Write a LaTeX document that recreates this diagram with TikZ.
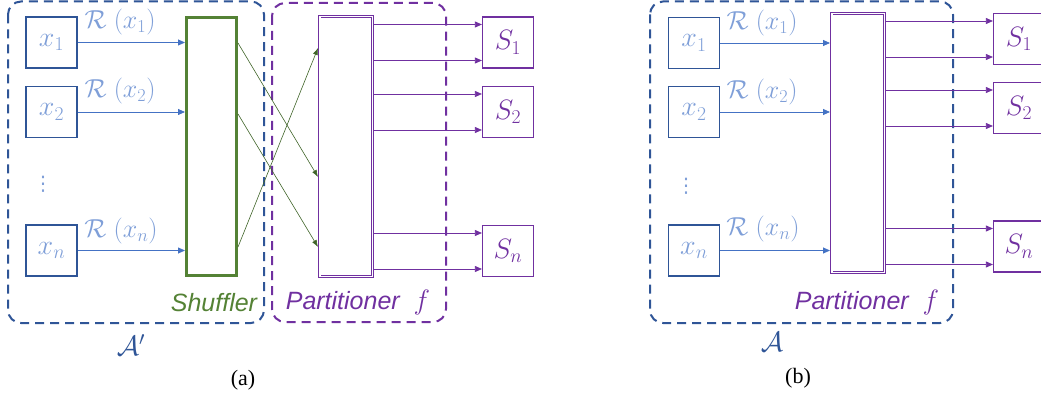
\documentclass[tikz,border=0pt]{standalone}
\usepackage{fix-cm}
\usepackage[no-math]{fontspec}
\newfontfamily\labfont{Liberation Sans}
\newfontfamily\capfont{Liberation Serif}
\newfontfamily\dotfont{DejaVu Sans}
\usetikzlibrary{arrows.meta,calc}
\definecolor{dblue}{HTML}{2F5597}
\definecolor{lblue}{HTML}{7F9FD8}
\definecolor{mblue}{HTML}{4472C4}
\definecolor{purp}{HTML}{7030A0}
\definecolor{grn}{HTML}{548235}
\definecolor{dgrn}{HTML}{3F6428}
\newcommand{\lowr}[1]{\raisebox{-3pt}{$#1$}}
\begin{document}
\begin{tikzpicture}[x=1pt,y=-1pt,
  bigfont/.style={font=\fontsize{28}{32}\selectfont},
  midfont/.style={font=\fontsize{26}{30}\selectfont},
  xbox/.style={draw=dblue, line width=1.2pt, minimum width=51pt, minimum height=51pt, inner sep=0pt, text=lblue, bigfont},
  sbox/.style={draw=purp, line width=1.2pt, minimum width=51pt, minimum height=51pt, inner sep=0pt, text=purp, bigfont},
  rlab/.style={text=lblue, inner sep=0pt, midfont},
  dotlab/.style={text=lblue, inner sep=0pt, font=\fontsize{20}{24}\selectfont\dotfont},
  barrow/.style={draw=mblue, line width=0.8pt, -{Triangle[length=7pt,width=6pt]}},
  parrow/.style={draw=purp, line width=0.8pt, -{Triangle[length=7pt,width=6pt]}},
  garrow/.style={draw=dgrn, line width=0.6pt, -{Latex[length=7pt,width=5pt]}},
  shufbox/.style={draw=grn, line width=3pt, minimum width=50pt, minimum height=258pt, inner sep=0pt},
  partbox/.style={draw=purp, double=white, line width=0.7pt, double distance=1.8pt, outer sep=1.6pt, minimum width=52.8pt, inner sep=0pt},
  grp/.style={dash pattern=on 9pt off 6pt, line width=2pt, rounded corners=13pt},
  grplab/.style={inner sep=0pt, font=\fontsize{25}{30}\selectfont\labfont\itshape},
  caplab/.style={inner sep=0pt, font=\fontsize{22}{26}\selectfont\capfont}
]
\useasboundingbox (0,0) rectangle (1041,398);

% ---------- panel (a) ----------
\draw[grp, draw=dblue] (8,1.5) rectangle (264,323);
\draw[grp, draw=purp] (272,3) rectangle (446,322);

\node[xbox] (ax1) at (51.5,42.5) {\lowr{x_1}};
\node[xbox] (ax2) at (51.5,112) {\lowr{x_2}};
\node[xbox] (axn) at (51.5,250.5) {\lowr{x_n}};
\node[dotlab] (adots) at (43,184) {⋮};

\node[shufbox] (sh) at (211.5,146.5) {};
\node[partbox, minimum height=259.8pt] (pa) at (346,146.5) {};

\node[rlab] (ar1) at (120,22) {$\mathcal{R}\;(x_1)$};
\node[rlab] (ar2) at (120,91) {$\mathcal{R}\;(x_2)$};
\node[rlab] (arn) at (121,231) {$\mathcal{R}\;(x_n)$};

\draw[barrow] (ax1.east) -- (ax1.east -| sh.west);
\draw[barrow] (ax2.east) -- (ax2.east -| sh.west);
\draw[barrow] (axn.east) -- (axn.east -| sh.west);

\draw[garrow] ([yshift=-27pt]sh.north east) -- ([yshift=-162pt]pa.north west);
\draw[garrow] ([yshift=-98pt]sh.north east) -- ([yshift=-232pt]pa.north west);
\draw[garrow] ([yshift=-231pt]sh.north east) -- ([yshift=-33pt]pa.north west);

\node[sbox] (as1) at (508,42.5) {\lowr{S_1}};
\node[sbox] (as2) at (508,112) {\lowr{S_2}};
\node[sbox] (asn) at (508,251) {\lowr{S_n}};

\foreach \s in {as1,as2,asn}{
  \coordinate (\s u) at ([yshift=18pt]\s.west);
  \coordinate (\s d) at ([yshift=-18pt]\s.west);
  \draw[parrow] (pa.east |- \s u) -- (\s u);
  \draw[parrow] (pa.east |- \s d) -- (\s d);
}

\node[grplab, text=grn] (shlab) at (214,303) {Shuffler};
\node[grplab, text=purp] (palab) at (358,302) {Partitioner\;\;{\normalfont\fontsize{28}{32}\selectfont$f$}};
\node[text=dblue, bigfont] (Aa) at (131,345) {$\mathcal{A}'$};
\node[caplab] (capa) at (243,380) {(a)};

% ---------- panel (b) ----------
\draw[grp, draw=dblue] (650,1.5) rectangle (953,323);

\node[xbox] (bx1) at (694,43) {\lowr{x_1}};
\node[xbox] (bx2) at (694,112) {\lowr{x_2}};
\node[xbox] (bxn) at (694,250.5) {\lowr{x_n}};
\node[dotlab] (bdots) at (686,186) {⋮};

\node[partbox, minimum height=258.8pt] (pb) at (858,143) {};

\node[rlab] (br1) at (762,23) {$\mathcal{R}\;(x_1)$};
\node[rlab] (br2) at (762,92) {$\mathcal{R}\;(x_2)$};
\node[rlab] (brn) at (763,229) {$\mathcal{R}\;(x_n)$};

\draw[barrow] (bx1.east) -- (bx1.east -| pb.west);
\draw[barrow] (bx2.east) -- (bx2.east -| pb.west);
\draw[barrow] (bxn.east) -- (bxn.east -| pb.west);

\node[sbox] (bs1) at (1019,39) {\lowr{S_1}};
\node[sbox] (bs2) at (1019,108) {\lowr{S_2}};
\node[sbox] (bsn) at (1019,246.5) {\lowr{S_n}};

\foreach \s in {bs1,bs2,bsn}{
  \coordinate (\s u) at ([yshift=18pt]\s.west);
  \coordinate (\s d) at ([yshift=-18pt]\s.west);
  \draw[parrow] (pb.east |- \s u) -- (\s u);
  \draw[parrow] (pb.east |- \s d) -- (\s d);
}

\node[grplab, text=purp] (pblab) at (867,302) {Partitioner\;\;{\normalfont\fontsize{28}{32}\selectfont$f$}};
\node[text=dblue, bigfont] (Ab) at (772,342) {$\mathcal{A}$};
\node[caplab] (capb) at (798,378) {(b)};
\end{tikzpicture}
\end{document}
